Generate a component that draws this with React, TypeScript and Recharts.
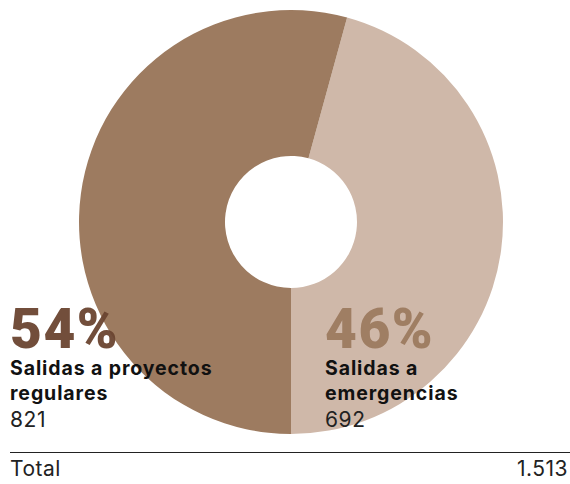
import React from "react";
import { PieChart, Pie, Cell } from "recharts";

const categories = ["Salidas a emergencias", "Salidas a proyectos regulares"];
const values = [692, 821];
const sliceColors = ["#CFB8A9", "#9D7B60"];
const pctColors = ["#9D7B60", "#6B4531"];
const labelLines = [["Salidas a", "emergencias"], ["Salidas a proyectos", "regulares"]];

const total = values.reduce((a, b) => a + b, 0);
const data = categories.map((name, i) => ({ name, value: values[i] }));

const fmt = (n: number) => n.toString().replace(/\B(?=(\d{3})+(?!\d))/g, ".");
const pct = (v: number) => `${Math.round((v / total) * 100)}%`;

const FONT = "Inter, Roboto, 'Liberation Sans', sans-serif";
const BIG = "Roboto, Inter, sans-serif";

function Block({ i, left }: { i: number; left: number }) {
  return (
    <div style={{ position: "absolute", left, top: 302, fontFamily: FONT }}>
      <div
        style={{
          fontFamily: BIG,
          fontSize: 55,
          fontWeight: 900,
          color: pctColors[i],
          lineHeight: "54px",
          letterSpacing: 1.5,
          opacity: 0.95,
        }}
      >
        {pct(values[i])}
      </div>
      <div
        style={{
          fontSize: 19.5,
          fontWeight: 700,
          color: "#111",
          lineHeight: "25px",
          letterSpacing: 0.9,
        }}
      >
        {labelLines[i].map((l, k) => (
          <div key={k}>{l}</div>
        ))}
      </div>
      <div style={{ fontSize: 21, fontWeight: 400, color: "#222", lineHeight: "27px", letterSpacing: 0.6 }}>
        {values[i]}
      </div>
    </div>
  );
}

export default function App() {
  return (
    <div
      style={{
        position: "absolute",
        left: 0,
        top: 0,
        width: 570,
        height: 484,
        background: "#fff",
        overflow: "hidden",
      }}
    >
      <PieChart width={570} height={484} margin={{ top: 0, right: 0, bottom: 0, left: 0 }}>
        <Pie
          data={data}
          dataKey="value"
          cx={291}
          cy={222}
          innerRadius={66}
          outerRadius={212}
          startAngle={-90}
          endAngle={270}
          stroke="none"
          isAnimationActive={false}
        >
          {data.map((d, i) => (
            <Cell key={d.name} fill={sliceColors[i]} />
          ))}
        </Pie>
      </PieChart>
      <Block i={1} left={10} />
      <Block i={0} left={325} />
      <div
        style={{
          position: "absolute",
          left: 10,
          right: 0,
          top: 452,
          borderTop: "1px solid #222",
        }}
      />
      <div
        style={{
          position: "absolute",
          left: 10,
          right: 2,
          top: 456,
          display: "flex",
          justifyContent: "space-between",
          fontFamily: FONT,
          fontSize: 21,
          letterSpacing: 0.5,
          color: "#222",
        }}
      >
        <span>Total</span>
        <span>{fmt(total)}</span>
      </div>
    </div>
  );
}
